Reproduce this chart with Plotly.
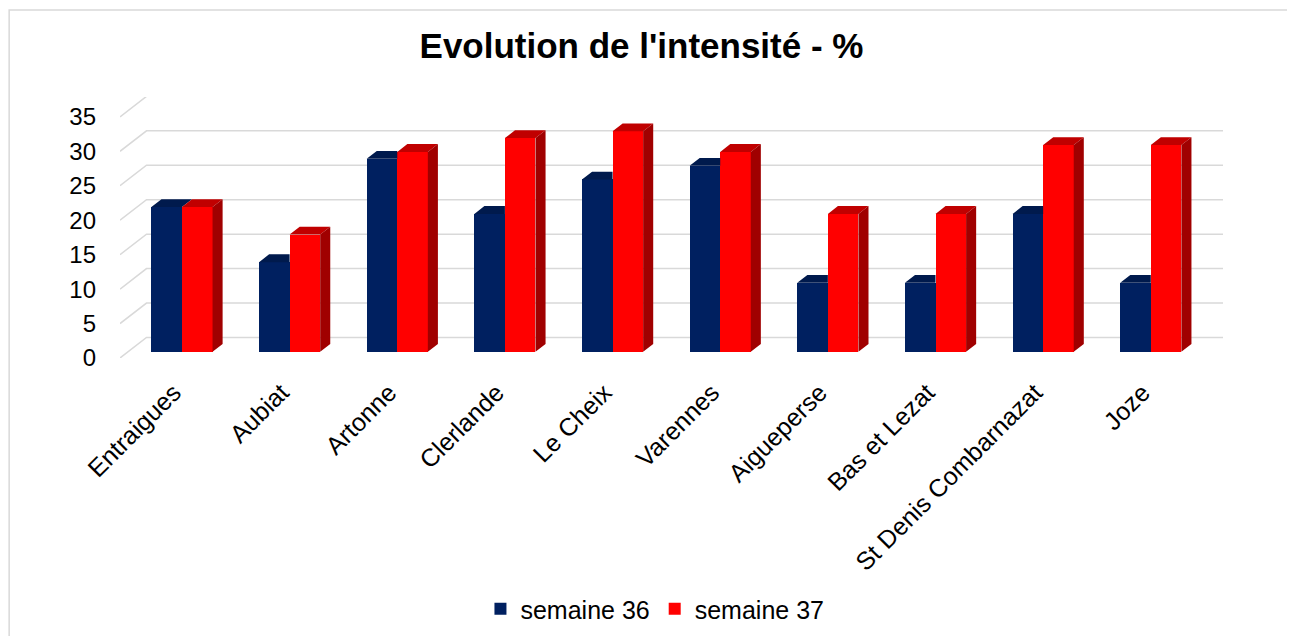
import plotly.graph_objects as go

# ---- data ----
categories = ["Entraigues", "Aubiat", "Artonne", "Clerlande", "Le Cheix", "Varennes",
              "Aigueperse", "Bas et Lezat", "St Denis Combarnazat", "Joze"]
semaine_36 = [21, 13, 28, 20, 25, 27, 10, 10, 20, 10]
semaine_37 = [21, 17, 29, 31, 32, 29, 20, 20, 30, 30]
y_ticks = [0, 5, 10, 15, 20, 25, 30, 35]
series_names = ["semaine 36", "semaine 37"]
title_text = "Evolution de l'intensité - %"

# ---- styling / pseudo-3D geometry (in axis units) ----
BLUE, BLUE_TOP = "#002060", "#001A4D"
RED, RED_TOP, RED_SIDE = "#FF0000", "#C00000", "#A00000"
GRID = "#D9D9D9"
FONT = "Liberation Sans, Arial, sans-serif"

DX, DY = 0.2463, 2.975          # full depth of the 3D box (x units, y units)
F0, FB = 0.307, 0.38            # bar starts at depth F0 and is FB deep
W = 0.284                       # bar width
bx, by = F0 * DX, F0 * DY       # front face offset of the bars
dx, dy = FB * DX, FB * DY       # depth of the bars

n = len(categories)
xpos = list(range(n))
x_blue = [i + bx - W / 2 for i in xpos]
x_red = [i + bx + W / 2 for i in xpos]

fig = go.Figure()

fig.add_trace(go.Bar(x=x_blue, y=semaine_36, base=[by] * n, width=W, name=series_names[0],
                     marker=dict(color=BLUE, line=dict(width=0))))
fig.add_trace(go.Bar(x=x_red, y=semaine_37, base=[by] * n, width=W, name=series_names[1],
                     marker=dict(color=RED, line=dict(width=0))))

# top face of the blue bars (part not hidden by the red bar)
tx, ty = [], []
for xc, vb, vr in zip(x_blue, semaine_36, semaine_37):
    xl, xr, t = xc - W / 2, xc + W / 2, vb + by
    if vr > vb:
        tx += [xl, xr, xr, xl + dx, xl, None]
        ty += [t, t, t + dy, t + dy, t, None]
    else:
        tx += [xl, xr, xr + dx, xl + dx, xl, None]
        ty += [t, t, t + dy, t + dy, t, None]
fig.add_trace(go.Scatter(x=tx, y=ty, mode="lines", line=dict(width=0), fill="toself",
                         fillcolor=BLUE_TOP, hoverinfo="skip", showlegend=False))

# top and side faces of the red bars
rtx, rty, rsx, rsy = [], [], [], []
for xc, vr in zip(x_red, semaine_37):
    xl, xr, t = xc - W / 2, xc + W / 2, vr + by
    rtx += [xl, xr, xr + dx, xl + dx, xl, None]
    rty += [t, t, t + dy, t + dy, t, None]
    rsx += [xr, xr + dx, xr + dx, xr, xr, None]
    rsy += [by, by + dy, t + dy, t, by, None]
fig.add_trace(go.Scatter(x=rtx, y=rty, mode="lines", line=dict(width=0), fill="toself",
                         fillcolor=RED_TOP, hoverinfo="skip", showlegend=False))
fig.add_trace(go.Scatter(x=rsx, y=rsy, mode="lines", line=dict(width=0), fill="toself",
                         fillcolor=RED_SIDE, hoverinfo="skip", showlegend=False))

# back-wall gridlines with left diagonal
shapes = []
x0, x1 = -0.5, n - 0.5
for v in y_ticks:
    shapes.append(dict(type="path", xref="x", yref="y", layer="below",
                       path=f"M {x0},{v} L {x0 + DX},{v + DY} L {x1 + DX},{v + DY}",
                       line=dict(color=GRID, width=1.5)))
# outer chart frame
shapes.append(dict(type="rect", xref="paper", yref="paper", layer="below",
                   x0=-0.1005, x1=1.1, y0=-1.2, y1=1.3333,
                   line=dict(color=GRID, width=1.5), fillcolor="rgba(0,0,0,0)"))

fig.update_layout(
    width=1295, height=636,
    margin=dict(l=112, r=80, t=89, b=286),
    paper_bgcolor="white", plot_bgcolor="white",
    barmode="overlay", bargap=0,
    shapes=shapes,
    font=dict(family=FONT, color="#000000"),
    title=dict(text=f"<b>{title_text}</b>", x=633.5 / 1295, xref="container", y=1 - 38 / 636,
               yref="container", xanchor="center", yanchor="middle",
               font=dict(size=35, family=FONT, color="#000000")),
    xaxis=dict(range=[x0, x1 + DX], tickvals=xpos, ticktext=categories, tickangle=-45,
               showgrid=False, zeroline=False, showline=False, ticks="",
               tickfont=dict(size=25, family=FONT, color="#000000"), ticklabelstandoff=14),
    yaxis=dict(range=[0, 37.88], tickvals=y_ticks, showgrid=False, zeroline=False,
               showline=False, ticks="", ticklabelstandoff=23,
               tickfont=dict(size=24, family=FONT, color="#000000")),
    legend=dict(orientation="h", x=0.485, xanchor="center", y=-0.962, yanchor="middle",
                font=dict(size=25, family=FONT, color="#000000"), bgcolor="rgba(0,0,0,0)"),
)

fig.write_html("out.html")
